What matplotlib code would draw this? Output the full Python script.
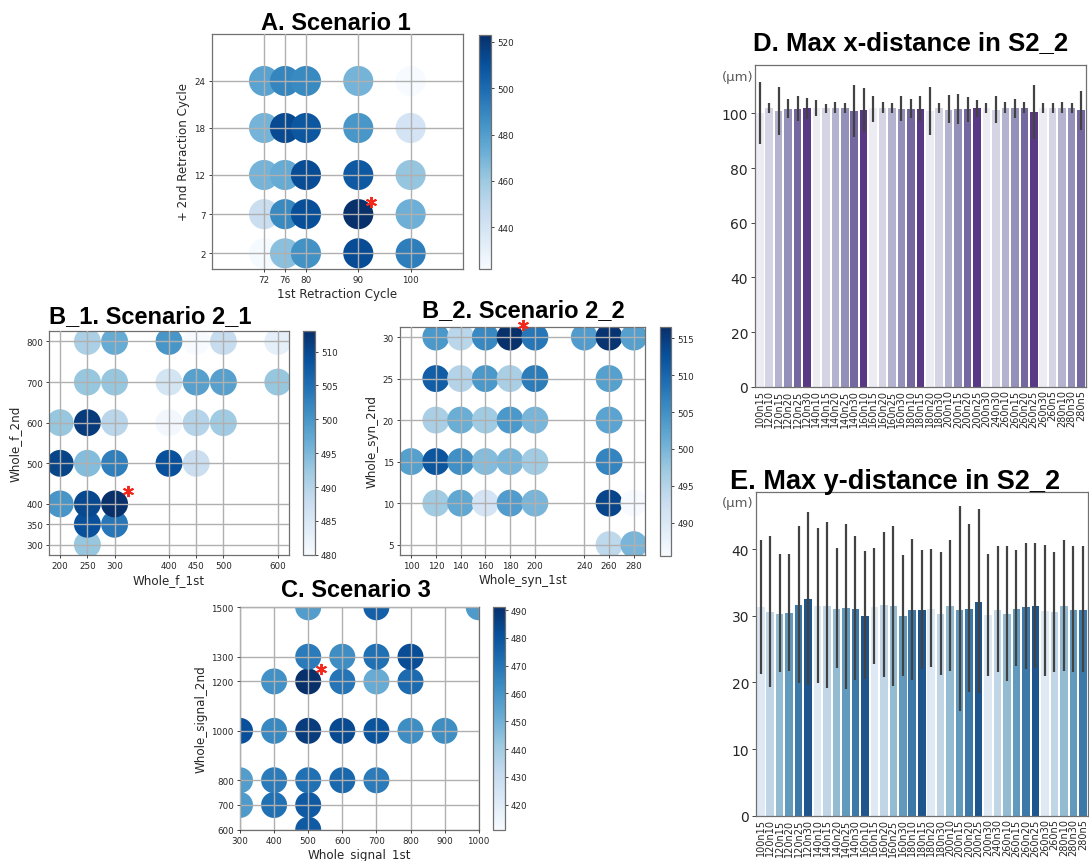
import numpy as np
import matplotlib
matplotlib.use('Agg')
import matplotlib.pyplot as plt
from matplotlib.transforms import offset_copy
import seaborn as sns

W, H = 1089, 862

# ---------------- Panel A data ----------------
a_x = [72, 72, 72, 72, 72, 76, 76, 76, 76, 76, 80, 80, 80, 80, 80,
       90, 90, 90, 90, 90, 100, 100, 100, 100, 100]
a_y = [2, 7, 12, 18, 24] * 5
a_v = [423, 445, 470, 470, 478,
       465, 488, 474, 513, 490,
       485, 511, 512, 508, 488,
       512, 523, 507, 483, 470,
       493, 472, 462, 440, 422]
a_xticks = [72, 76, 80, 90, 100]
a_yticks = [2, 7, 12, 18, 24]
a_cticks = [440, 460, 480, 500, 520]

# ---------------- Panel B_1 data ----------------
b1_x = [200, 200, 200,
        250, 250, 250, 250, 250, 250, 250,
        300, 300, 300, 300, 300, 300,
        400, 400, 400, 400,
        450, 450, 450, 450,
        500, 500, 500,
        600, 600]
b1_y = [400, 500, 600,
        300, 350, 400, 500, 600, 700, 800,
        350, 400, 500, 600, 700, 800,
        500, 600, 700, 800,
        500, 600, 700, 800,
        600, 700, 800,
        700, 800]
b1_v = [500, 510.5, 493,
        493, 509, 510, 494.5, 511.5, 493, 491,
        504, 513, 503, 489.5, 493, 497,
        509, 481, 486, 500,
        487.5, 490, 498.5, 480,
        492, 498.5, 488,
        493, 483]
b1_xticks = [200, 250, 300, 400, 450, 500, 600]
b1_yticks = [300, 350, 400, 500, 600, 700, 800]
b1_cticks = [480, 485, 490, 495, 500, 505, 510]

# ---------------- Panel B_2 data ----------------
b2_x = [100,
        120, 120, 120, 120, 120,
        140, 140, 140, 140, 140,
        160, 160, 160, 160, 160,
        180, 180, 180, 180, 180,
        200, 200, 200, 200, 200,
        240,
        260, 260, 260, 260, 260, 260,
        280, 280, 280]
b2_y = [15,
        10, 15, 20, 25, 30,
        10, 15, 20, 25, 30,
        10, 15, 20, 25, 30,
        10, 15, 20, 25, 30,
        10, 15, 20, 25, 30,
        30,
        5, 10, 15, 20, 25, 30,
        5, 10, 30]
b2_v = [503,
        497, 512, 496, 511, 504,
        502, 505, 501, 495, 494.5,
        491, 499, 497, 504, 506,
        503.5, 500, 504, 496, 516.5,
        500, 497, 500, 507.5, 508,
        503.5,
        494, 514, 506.5, 502.5, 503, 516,
        500, 485.5, 503]
b2_xticks = [100, 120, 140, 160, 180, 200, 240, 260, 280]
b2_yticks = [5, 10, 15, 20, 25, 30]
b2_cticks = [490, 495, 500, 505, 510, 515]

# ---------------- Panel C data ----------------
c_x = [300, 300, 300,
       400, 400, 400, 400,
       500, 500, 500, 500, 500, 500, 500,
       600, 600, 600, 600,
       700, 700, 700, 700, 700,
       800, 800, 800,
       900, 1000]
c_y = [700, 800, 1000,
       700, 800, 1000, 1200,
       600, 700, 800, 1000, 1200, 1300, 1500,
       800, 1000, 1200, 1300,
       800, 1000, 1200, 1300, 1500,
       1000, 1200, 1300,
       1000, 1500]
c_v = [458, 457, 481,
       471, 468, 464, 461,
       478, 478, 471, 487, 491, 468, 457,
       474, 483, 470, 462,
       468, 480, 452, 471, 476,
       462, 473, 482,
       462, 458]
c_xticks = [300, 400, 500, 600, 700, 800, 900, 1000]
c_yticks = [600, 700, 800, 1000, 1200, 1300, 1500]
c_cticks = [420, 430, 440, 450, 460, 470, 480, 490]
c_clim = [411, 491]

# ---------------- Bar panels data ----------------
bar_labels = ['100n15', '120n10', '120n15', '120n20', '120n25', '120n30',
              '140n10', '140n15', '140n20', '140n25', '140n30',
              '160n10', '160n15', '160n20', '160n25', '160n30',
              '180n10', '180n15', '180n20', '180n30',
              '200n10', '200n15', '200n20', '200n25', '200n30',
              '240n30', '260n10', '260n15', '260n20', '260n25', '260n30',
              '260n5', '280n10', '280n30', '280n5']

d_mean = [100.2, 101.8, 101.0, 101.7, 101.7, 101.8, 101.8, 101.8, 102.1, 101.9,
          100.7, 101.2, 101.8, 101.8, 101.9, 101.6, 101.6, 101.6, 100.7, 101.9,
          101.3, 101.6, 101.5, 101.8, 101.8, 101.3, 101.8, 101.8, 102.1, 100.6,
          101.8, 101.8, 101.9, 102.1, 101.1]
d_lo = [88.8, 100.0, 92.2, 98.2, 97.1, 97.9, 98.9, 100.0, 100.0, 100.0,
        91.3, 93.1, 96.7, 100.0, 100.0, 97.1, 98.2, 97.1, 92.2, 100.0,
        96.4, 96.1, 96.7, 98.5, 100.0, 96.5, 100.0, 98.2, 100.0, 90.7,
        100.0, 100.0, 100.0, 100.0, 93.9]
d_hi = [111.5, 103.8, 109.7, 105.2, 106.3, 105.6, 104.8, 103.6, 104.2, 103.8,
        110.5, 109.3, 106.5, 104.0, 103.8, 106.3, 105.2, 106.3, 109.7, 103.8,
        106.8, 107.2, 106.1, 104.8, 103.8, 106.4, 104.0, 105.2, 104.0, 110.5,
        103.8, 103.8, 104.0, 103.8, 108.2]

e_mean = [31.26, 30.6, 30.3, 30.35, 31.56, 32.5, 31.46, 31.5, 31.06, 31.2,
          31.06, 30.0, 31.36, 31.6, 31.4, 30.0, 30.8, 30.9, 31.05, 30.25,
          31.46, 30.9, 31.0, 32.06, 30.05, 30.9, 30.25, 31.05, 31.26, 31.46,
          30.75, 30.5, 31.46, 30.9, 30.9]
e_lo = [21.25, 19.25, 21.6, 21.65, 19.9, 19.6, 19.85, 19.1, 22.1, 19.0,
        20.35, 20.5, 22.75, 20.75, 19.5, 21.0, 20.35, 22.0, 22.25, 21.15,
        21.75, 15.65, 18.5, 18.35, 21.0, 21.5, 20.15, 22.5, 22.0, 22.1,
        21.0, 21.6, 21.75, 21.5, 21.6]
e_hi = [41.3, 42.0, 39.2, 39.2, 43.4, 45.6, 43.2, 44.1, 40.1, 43.7,
        42.0, 39.7, 40.1, 42.6, 43.5, 39.1, 41.5, 39.85, 40.05, 39.5,
        41.36, 46.4, 43.8, 46.0, 39.2, 40.45, 40.5, 39.85, 40.85, 40.95,
        40.65, 39.6, 41.36, 40.45, 40.4]

# ---------------- Figure ----------------
plt.rcParams['font.family'] = ['DejaVu Sans']
fig = plt.figure(figsize=(W / 100, H / 100), dpi=100)

SPINE = '#707070'
TXT = '#262626'


def px(l, t, r, b):
    return [l / W, 1 - b / H, (r - l) / W, (b - t) / H]


def scatter_panel(box_ax, box_cb, xs, ys, vs, s, xticks, yticks, cticks,
                  xlabel, ylabel, xlim=None, ylim=None, clim=None):
    ax = fig.add_axes(px(*box_ax))
    kw = {}
    if clim is not None:
        kw = dict(vmin=clim[0], vmax=clim[1])
    sc = ax.scatter(xs, ys, c=vs, cmap='Blues', s=s, linewidths=0, zorder=1, **kw)
    if xlim is not None:
        ax.set_xlim(xlim)
    if ylim is not None:
        ax.set_ylim(ylim)
    ax.set_xticks(xticks)
    ax.set_yticks(yticks)
    ax.grid(True, color='#b0b0b0', lw=1.0)
    ax.set_axisbelow(False)
    for sp in ax.spines.values():
        sp.set_color(SPINE)
        sp.set_linewidth(0.9)
    ax.tick_params(labelsize=6.3, length=2.5, width=0.6, colors=TXT, pad=2)
    ax.set_xlabel(xlabel, fontsize=8.6, color=TXT, labelpad=2)
    ax.set_ylabel(ylabel, fontsize=8.6, color=TXT, labelpad=3)
    i = int(np.argmax(vs))
    tr = offset_copy(ax.transData, fig=fig, x=9.5, y=9, units='points')
    ax.plot([xs[i]], [ys[i]], marker=(6, 2, 0), color='#f2281c', ms=8, mew=1.4,
            transform=tr, clip_on=False, zorder=6, ls='none')
    cax = fig.add_axes(px(*box_cb))
    cb = fig.colorbar(sc, cax=cax)
    cb.set_ticks(cticks)
    cb.ax.tick_params(labelsize=6.3, length=2.5, width=0.6, colors=TXT, pad=2)
    cb.outline.set_edgecolor(SPINE)
    cb.outline.set_linewidth(0.9)
    return ax


scatter_panel((211.7, 35, 463, 270), (479, 36, 491, 270), a_x, a_y, a_v, 470,
              a_xticks, a_yticks, a_cticks, '1st Retraction Cycle',
              '+ 2nd Retraction Cycle', xlim=(62, 110), ylim=(0, 30))
scatter_panel((49.3, 332.3, 288.7, 555.7), (303.3, 332.3, 314.7, 555.7),
              b1_x, b1_y, b1_v, 375, b1_xticks, b1_yticks, b1_cticks,
              'Whole_f_1st', 'Whole_f_2nd')
scatter_panel((400, 327.7, 645, 556), (660, 328.3, 671.3, 556.7),
              b2_x, b2_y, b2_v, 375, b2_xticks, b2_yticks, b2_cticks,
              'Whole_syn_1st', 'Whole_syn_2nd')
scatter_panel((240, 608.3, 478.7, 830.7), (493.3, 608.3, 504.7, 830.7),
              c_x, c_y, c_v, 350, c_xticks, c_yticks, c_cticks,
              'Whole_signal_1st', 'Whole_signal_2nd',
              xlim=(300, 1000), ylim=(600, 1500), clim=c_clim)

TFONT = dict(family=['Liberation Sans', 'DejaVu Sans'], weight='bold', color='black')
fig.text(336 / W, 1 - 29.5 / H, 'A. Scenario 1', ha='center', va='baseline', fontsize=17, **TFONT)
fig.text(49 / W, 1 - 323 / H, 'B_1. Scenario 2_1', ha='left', va='baseline', fontsize=17, **TFONT)
fig.text(523.7 / W, 1 - 316.7 / H, 'B_2. Scenario 2_2', ha='center', va='baseline', fontsize=17, **TFONT)
fig.text(356 / W, 1 - 596.7 / H, 'C. Scenario 3', ha='center', va='baseline', fontsize=17, **TFONT)


def bar_panel(box, mean, lo, hi, cmap, ylim, yticks, title, title_xy, tsize, unit_xy):
    ax = fig.add_axes(px(*box))
    cols = [sns.desaturate(c, 0.75) for c in sns.color_palette(cmap, 6)]
    n = len(mean)
    colors = [cols[i % 6] for i in range(n)]
    xpos = np.arange(n)
    ax.bar(xpos, mean, width=0.8, color=colors, linewidth=0)
    ax.vlines(xpos, lo, hi, color='#424242', lw=1.6, zorder=3)
    ax.set_xlim(-0.5, n - 0.5)
    ax.set_ylim(ylim)
    ax.set_yticks(yticks)
    ax.set_xticks(xpos)
    ax.set_xticklabels(bar_labels, rotation=90, fontsize=7, color=TXT)
    ax.tick_params(axis='y', labelsize=10, length=3, width=0.6, colors=TXT, pad=2)
    ax.tick_params(axis='x', length=0, pad=2)
    for sp in ax.spines.values():
        sp.set_color(SPINE)
        sp.set_linewidth(0.9)
    fig.text(title_xy[0] / W, 1 - title_xy[1] / H, title, ha='center', va='baseline',
             fontsize=tsize, **TFONT)
    fig.text(unit_xy[0] / W, 1 - unit_xy[1] / H, '(\u03bcm)', ha='center', va='center',
             fontsize=9.5, color='#595959')
    return ax


bar_panel((755, 66, 1085.7, 387.7), d_mean, d_lo, d_hi, 'Purples', (0, 117.7),
          [0, 20, 40, 60, 80, 100], 'D. Max x-distance in S2_2', (911, 50), 18.5, (738, 77))
bar_panel((756, 492.7, 1087.5, 816.7), e_mean, e_lo, e_hi, 'Blues', (0, 48.6),
          [0, 10, 20, 30, 40], 'E. Max y-distance in S2_2', (895, 489), 19.5, (738, 504))

fig.savefig('out.png', dpi=100)
